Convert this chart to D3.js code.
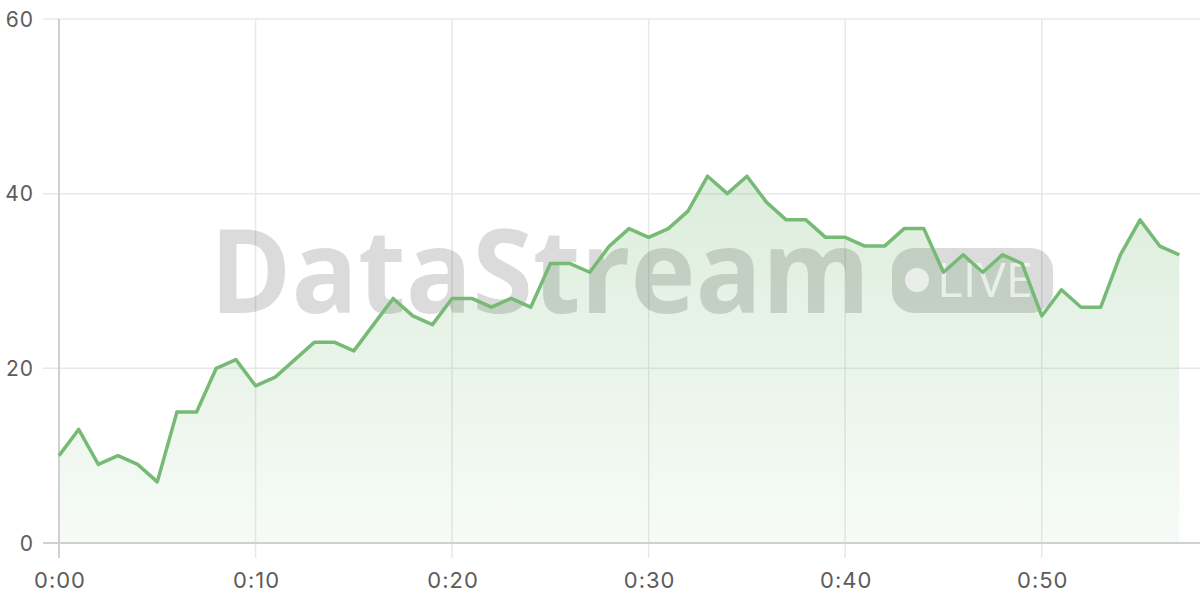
<!DOCTYPE html>
<html>
<head>
<meta charset="utf-8">
<script src="https://cdn.jsdelivr.net/npm/d3@7/dist/d3.min.js"></script>
<style>
  html, body { margin: 0; padding: 0; background: #fff; }
  svg { display: block; }
</style>
</head>
<body>
<svg id="chart" width="1200" height="600"></svg>
<script>
// Data: minute index -> value
const minutes = d3.range(0, 58);
const values = [10, 13, 9, 10, 9, 7, 15, 15, 20, 21,
                18, 19, 21, 23, 23, 22, 25, 28, 26, 25,
                28, 28, 27, 28, 27, 32, 32, 31, 34, 36,
                35, 36, 38, 42, 40, 42, 39, 37, 37, 35,
                35, 34, 34, 36, 36, 31, 33, 31, 33, 32,
                26, 29, 27, 27, 33, 37, 34, 33];
const xTicks = [0, 10, 20, 30, 40, 50];
const xTickLabels = ["0:00", "0:10", "0:20", "0:30", "0:40", "0:50"];
const yTicks = [0, 20, 40, 60];

const data = minutes.map((m, i) => ({ m, v: values[i] }));

const svg = d3.select("#chart");
const plotLeft = 59, plotRight = 1199, plotTop = 19, plotBottom = 543;

const x = d3.scaleLinear().domain([0, 58]).range([plotLeft, plotRight]);
const y = d3.scaleLinear().domain([0, 60]).range([plotBottom, plotTop]);

const wmFont = "'Open Sans', 'Noto Sans', sans-serif";
const axFont = "Inter, 'Noto Sans', sans-serif";

// gradient
const defs = svg.append("defs");
const grad = defs.append("linearGradient")
  .attr("id", "areaGrad")
  .attr("gradientUnits", "userSpaceOnUse")
  .attr("x1", 0).attr("x2", 0)
  .attr("y1", y(42)).attr("y2", y(0));
grad.append("stop").attr("offset", "0%").attr("stop-color", "rgb(120,187,120)").attr("stop-opacity", 0.26);
grad.append("stop").attr("offset", "100%").attr("stop-color", "rgb(120,187,120)").attr("stop-opacity", 0.06);

// horizontal grid
svg.append("g").selectAll("line").data(yTicks.filter(t => t !== 0)).join("line")
  .attr("x1", 43).attr("x2", 1200)
  .attr("y1", d => y(d)).attr("y2", d => y(d))
  .attr("stroke", "#e8e8e8").attr("stroke-width", 1.5);

// vertical grid
svg.append("g").selectAll("line").data(xTicks.filter(t => t !== 0)).join("line")
  .attr("x1", d => x(d)).attr("x2", d => x(d))
  .attr("y1", plotTop).attr("y2", 558)
  .attr("stroke", "#e8e8e8").attr("stroke-width", 1.5);

// area
const area = d3.area().x(d => x(d.m)).y0(y(0)).y1(d => y(d.v));
svg.append("path").datum(data).attr("d", area).attr("fill", "url(#areaGrad)");

// watermark
const wm = svg.append("g").attr("class", "watermark");
wm.append("text")
  .attr("x", 210).attr("y", 313)
  .attr("font-family", wmFont).attr("font-weight", 700)
  .attr("font-size", 116)
  .attr("textLength", 660).attr("lengthAdjust", "spacingAndGlyphs")
  .attr("fill", "rgba(0,0,0,0.14)")
  .text("DataStream");
wm.append("rect")
  .attr("x", 892).attr("y", 248).attr("width", 161).attr("height", 65)
  .attr("rx", 22).attr("ry", 22)
  .attr("fill", "rgba(0,0,0,0.14)");
wm.append("circle")
  .attr("cx", 917).attr("cy", 280).attr("r", 12)
  .attr("fill", "rgba(255,255,255,0.65)");
wm.append("text")
  .attr("x", 937).attr("y", 297)
  .attr("font-family", wmFont).attr("font-weight", 400)
  .attr("font-size", 47)
  .attr("textLength", 96).attr("lengthAdjust", "spacingAndGlyphs")
  .attr("fill", "rgba(255,255,255,0.65)")
  .text("LIVE");

// axes lines
svg.append("line").attr("x1", plotLeft).attr("x2", plotLeft).attr("y1", plotTop).attr("y2", 558)
  .attr("stroke", "#d0d0d0").attr("stroke-width", 2);
svg.append("line").attr("x1", 43).attr("x2", 1200).attr("y1", plotBottom).attr("y2", plotBottom)
  .attr("stroke", "#d0d0d0").attr("stroke-width", 2);

// line
const line = d3.line().x(d => x(d.m)).y(d => y(d.v));
svg.append("path").datum(data).attr("d", line)
  .attr("fill", "none").attr("stroke", "#76ba76").attr("stroke-width", 3.5)
  .attr("stroke-linejoin", "round");

// y labels
svg.append("g").selectAll("text").data(yTicks).join("text")
  .attr("x", 34).attr("y", d => y(d))
  .attr("dy", "0.36em")
  .attr("text-anchor", "end")
  .attr("font-family", axFont).attr("font-size", 21)
  .attr("letter-spacing", 1)
  .attr("fill", "#5c5c5c")
  .text(d => d);

// x labels
svg.append("g").selectAll("text").data(xTicks).join("text")
  .attr("x", d => x(d) + 1).attr("y", 588)
  .attr("text-anchor", "middle")
  .attr("font-family", axFont).attr("font-size", 22)
  .attr("letter-spacing", 1)
  .attr("fill", "#5c5c5c")
  .text((d, i) => xTickLabels[i]);
</script>
</body>
</html>
